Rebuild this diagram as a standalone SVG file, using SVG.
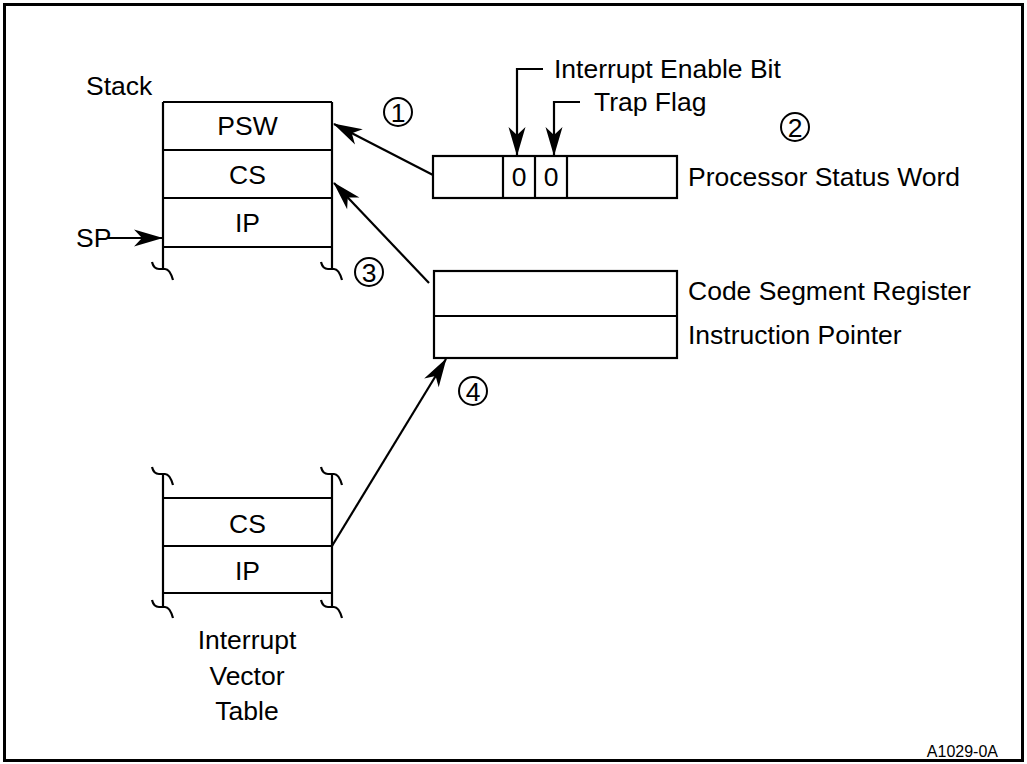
<svg xmlns="http://www.w3.org/2000/svg" xmlns:xlink="http://www.w3.org/1999/xlink" width="1027" height="764" viewBox="0 0 1027 764">
<style>
.ln{fill:none;stroke:#000;stroke-width:2.2}
.bx{fill:#fff;stroke:#000;stroke-width:2.2}
.t{font-family:"Liberation Sans",Arial,sans-serif;font-size:26.5px;fill:#000}
.c{text-anchor:middle}
.circ{fill:none;stroke:#000;stroke-width:2}
</style>
<defs>
<marker id="ah" markerUnits="userSpaceOnUse" markerWidth="32" markerHeight="20" viewBox="-30 -10 32 20" refX="0" refY="0" orient="auto">
<path d="M1,0 L-28,-8.5 L-20,0 L-28,8.5 Z" fill="#000"/>
</marker>
<path id="sq" d="M-11,0 C-10,4 -8,7 -4,7 L2,7 C6,7 8,11 10,18" fill="none" stroke="#000" stroke-width="2.2"/>
</defs>
<rect x="4.5" y="4.5" width="1018" height="756" fill="#fff" stroke="#000" stroke-width="3"/>

<g id="stack">
<text class="t" x="86" y="95">Stack</text>
<path class="ln" d="M163,102 H332 M163,150 H332 M163,198 H332 M163,247 H332 M163,102 V269 M332,102 V269"/>
<use xlink:href="#sq" x="163" y="262"/>
<use xlink:href="#sq" x="332" y="262"/>
<text class="t c" x="247.5" y="135">PSW</text>
<text class="t c" x="247.5" y="184">CS</text>
<text class="t c" x="247.5" y="232">IP</text>
<text class="t" x="76" y="247">SP</text>
</g>

<g id="psw-register">
<rect class="bx" x="433" y="156" width="244" height="42"/>
<path class="ln" d="M503,156 V198 M535,156 V198 M567,156 V198"/>
<text class="t c" x="519" y="186">0</text>
<text class="t c" x="551" y="186">0</text>
<text class="t" x="688" y="186">Processor Status Word</text>
<text class="t" x="554" y="78">Interrupt Enable Bit</text>
<text class="t" x="594" y="111">Trap Flag</text>
</g>

<g id="cs-ip-register">
<rect class="bx" x="434" y="271" width="243" height="87"/>
<path class="ln" d="M434,316 H677"/>
<text class="t" x="688" y="300">Code Segment Register</text>
<text class="t" x="688" y="344">Instruction Pointer</text>
</g>

<g id="ivt">
<path class="ln" d="M163,498 H332 M163,546 H332 M163,593 H332 M163,474 V607 M332,474 V607"/>
<use xlink:href="#sq" x="163" y="467"/>
<use xlink:href="#sq" x="332" y="467"/>
<use xlink:href="#sq" x="163" y="600"/>
<use xlink:href="#sq" x="332" y="600"/>
<text class="t c" x="247.5" y="533">CS</text>
<text class="t c" x="247.5" y="580">IP</text>
<text class="t c" x="247" y="649">Interrupt</text>
<text class="t c" x="247" y="685">Vector</text>
<text class="t c" x="247" y="720">Table</text>
</g>

<g id="steps">
<circle class="circ" cx="398" cy="112" r="14"/>
<text class="t c" x="398" y="121.5">1</text>
<circle class="circ" cx="795" cy="127" r="14"/>
<text class="t c" x="795" y="136.5">2</text>
<circle class="circ" cx="369" cy="272" r="14"/>
<text class="t c" x="369" y="281.5">3</text>
<circle class="circ" cx="473" cy="391" r="14"/>
<text class="t c" x="473" y="400.5">4</text>
</g>

<g id="connectors">
<path class="ln" d="M108,238 H162" marker-end="url(#ah)"/>
<path class="ln" d="M433,175 L334,124" marker-end="url(#ah)"/>
<path class="ln" d="M429,283 L334,183" marker-end="url(#ah)"/>
<path class="ln" d="M332,546 L446,359" marker-end="url(#ah)"/>
<path class="ln" d="M543,69 H517 V155" marker-end="url(#ah)"/>
<path class="ln" d="M580,102 H554 V155" marker-end="url(#ah)"/>
</g>

<text x="998" y="757" style="font-family:'Liberation Sans',Arial,sans-serif;font-size:16px;text-anchor:end">A1029-0A</text>
</svg>
